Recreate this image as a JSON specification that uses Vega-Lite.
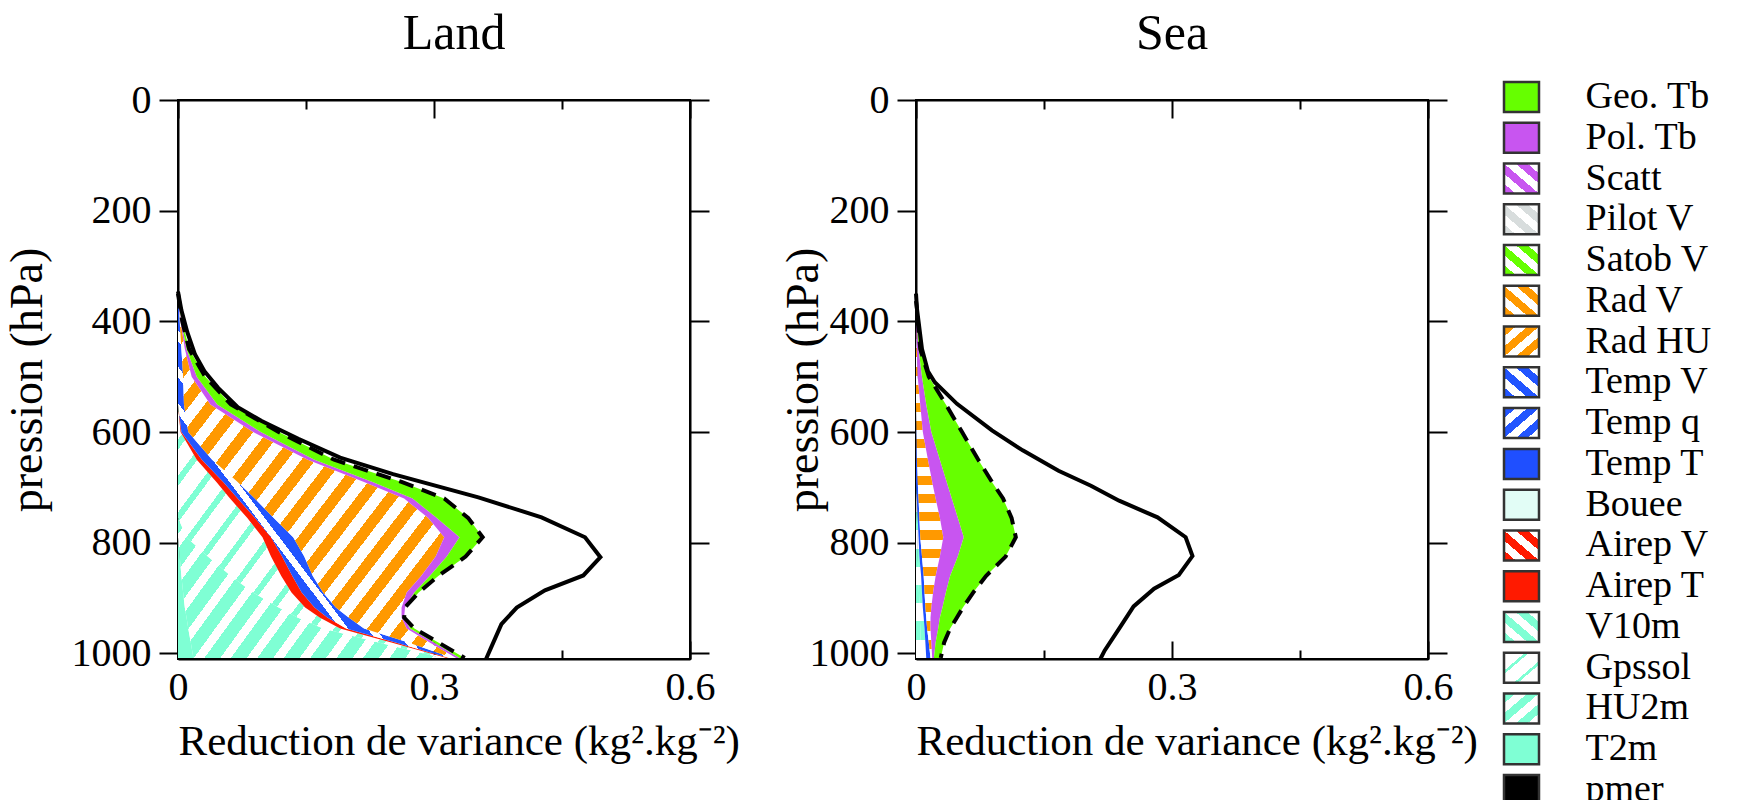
{
"$schema": "https://vega.github.io/schema/vega-lite/v6.json",
"background": "white",
"padding": {"left": 3, "top": 8, "right": 5, "bottom": 0},
"params": [
 {"name": "stOr", "expr": "[{offset:0,color:'#f90'},{offset:0.025,color:'#f90'},{offset:0.025,color:'#fff'},{offset:0.05,color:'#fff'},{offset:0.05,color:'#f90'},{offset:0.075,color:'#f90'},{offset:0.075,color:'#fff'},{offset:0.1,color:'#fff'},{offset:0.1,color:'#f90'},{offset:0.125,color:'#f90'},{offset:0.125,color:'#fff'},{offset:0.15,color:'#fff'},{offset:0.15,color:'#f90'},{offset:0.175,color:'#f90'},{offset:0.175,color:'#fff'},{offset:0.2,color:'#fff'},{offset:0.2,color:'#f90'},{offset:0.225,color:'#f90'},{offset:0.225,color:'#fff'},{offset:0.25,color:'#fff'},{offset:0.25,color:'#f90'},{offset:0.275,color:'#f90'},{offset:0.275,color:'#fff'},{offset:0.3,color:'#fff'},{offset:0.3,color:'#f90'},{offset:0.325,color:'#f90'},{offset:0.325,color:'#fff'},{offset:0.35,color:'#fff'},{offset:0.35,color:'#f90'},{offset:0.375,color:'#f90'},{offset:0.375,color:'#fff'},{offset:0.4,color:'#fff'},{offset:0.4,color:'#f90'},{offset:0.425,color:'#f90'},{offset:0.425,color:'#fff'},{offset:0.45,color:'#fff'},{offset:0.45,color:'#f90'},{offset:0.475,color:'#f90'},{offset:0.475,color:'#fff'},{offset:0.5,color:'#fff'},{offset:0.5,color:'#f90'},{offset:0.525,color:'#f90'},{offset:0.525,color:'#fff'},{offset:0.55,color:'#fff'},{offset:0.55,color:'#f90'},{offset:0.575,color:'#f90'},{offset:0.575,color:'#fff'},{offset:0.6,color:'#fff'},{offset:0.6,color:'#f90'},{offset:0.625,color:'#f90'},{offset:0.625,color:'#fff'},{offset:0.65,color:'#fff'},{offset:0.65,color:'#f90'},{offset:0.675,color:'#f90'},{offset:0.675,color:'#fff'},{offset:0.7,color:'#fff'},{offset:0.7,color:'#f90'},{offset:0.725,color:'#f90'},{offset:0.725,color:'#fff'},{offset:0.75,color:'#fff'},{offset:0.75,color:'#f90'},{offset:0.775,color:'#f90'},{offset:0.775,color:'#fff'},{offset:0.8,color:'#fff'},{offset:0.8,color:'#f90'},{offset:0.825,color:'#f90'},{offset:0.825,color:'#fff'},{offset:0.85,color:'#fff'},{offset:0.85,color:'#f90'},{offset:0.875,color:'#f90'},{offset:0.875,color:'#fff'},{offset:0.9,color:'#fff'},{offset:0.9,color:'#f90'},{offset:0.925,color:'#f90'},{offset:0.925,color:'#fff'},{offset:0.95,color:'#fff'},{offset:0.95,color:'#f90'},{offset:0.975,color:'#f90'},{offset:0.975,color:'#fff'},{offset:1,color:'#fff'}]"},
 {"name": "stCy20", "expr": "[{offset:0,color:'aquamarine'},{offset:0.03,color:'aquamarine'},{offset:0.03,color:'#fff'},{offset:0.05,color:'#fff'},{offset:0.05,color:'aquamarine'},{offset:0.08,color:'aquamarine'},{offset:0.08,color:'#fff'},{offset:0.1,color:'#fff'},{offset:0.1,color:'aquamarine'},{offset:0.13,color:'aquamarine'},{offset:0.13,color:'#fff'},{offset:0.15,color:'#fff'},{offset:0.15,color:'aquamarine'},{offset:0.18,color:'aquamarine'},{offset:0.18,color:'#fff'},{offset:0.2,color:'#fff'},{offset:0.2,color:'aquamarine'},{offset:0.23,color:'aquamarine'},{offset:0.23,color:'#fff'},{offset:0.25,color:'#fff'},{offset:0.25,color:'aquamarine'},{offset:0.28,color:'aquamarine'},{offset:0.28,color:'#fff'},{offset:0.3,color:'#fff'},{offset:0.3,color:'aquamarine'},{offset:0.33,color:'aquamarine'},{offset:0.33,color:'#fff'},{offset:0.35,color:'#fff'},{offset:0.35,color:'aquamarine'},{offset:0.38,color:'aquamarine'},{offset:0.38,color:'#fff'},{offset:0.4,color:'#fff'},{offset:0.4,color:'aquamarine'},{offset:0.43,color:'aquamarine'},{offset:0.43,color:'#fff'},{offset:0.45,color:'#fff'},{offset:0.45,color:'aquamarine'},{offset:0.48,color:'aquamarine'},{offset:0.48,color:'#fff'},{offset:0.5,color:'#fff'},{offset:0.5,color:'aquamarine'},{offset:0.53,color:'aquamarine'},{offset:0.53,color:'#fff'},{offset:0.55,color:'#fff'},{offset:0.55,color:'aquamarine'},{offset:0.58,color:'aquamarine'},{offset:0.58,color:'#fff'},{offset:0.6,color:'#fff'},{offset:0.6,color:'aquamarine'},{offset:0.63,color:'aquamarine'},{offset:0.63,color:'#fff'},{offset:0.65,color:'#fff'},{offset:0.65,color:'aquamarine'},{offset:0.68,color:'aquamarine'},{offset:0.68,color:'#fff'},{offset:0.7,color:'#fff'},{offset:0.7,color:'aquamarine'},{offset:0.73,color:'aquamarine'},{offset:0.73,color:'#fff'},{offset:0.75,color:'#fff'},{offset:0.75,color:'aquamarine'},{offset:0.78,color:'aquamarine'},{offset:0.78,color:'#fff'},{offset:0.8,color:'#fff'},{offset:0.8,color:'aquamarine'},{offset:0.83,color:'aquamarine'},{offset:0.83,color:'#fff'},{offset:0.85,color:'#fff'},{offset:0.85,color:'aquamarine'},{offset:0.88,color:'aquamarine'},{offset:0.88,color:'#fff'},{offset:0.9,color:'#fff'},{offset:0.9,color:'aquamarine'},{offset:0.93,color:'aquamarine'},{offset:0.93,color:'#fff'},{offset:0.95,color:'#fff'},{offset:0.95,color:'aquamarine'},{offset:0.98,color:'aquamarine'},{offset:0.98,color:'#fff'},{offset:1,color:'#fff'}]"},
 {"name": "stCy", "expr": "[{offset:0,color:'aquamarine'},{offset:0.05,color:'aquamarine'},{offset:0.05,color:'#fff'},{offset:0.1,color:'#fff'},{offset:0.1,color:'aquamarine'},{offset:0.15,color:'aquamarine'},{offset:0.15,color:'#fff'},{offset:0.2,color:'#fff'},{offset:0.2,color:'aquamarine'},{offset:0.25,color:'aquamarine'},{offset:0.25,color:'#fff'},{offset:0.3,color:'#fff'},{offset:0.3,color:'aquamarine'},{offset:0.35,color:'aquamarine'},{offset:0.35,color:'#fff'},{offset:0.4,color:'#fff'},{offset:0.4,color:'aquamarine'},{offset:0.45,color:'aquamarine'},{offset:0.45,color:'#fff'},{offset:0.5,color:'#fff'},{offset:0.5,color:'aquamarine'},{offset:0.55,color:'aquamarine'},{offset:0.55,color:'#fff'},{offset:0.6,color:'#fff'},{offset:0.6,color:'aquamarine'},{offset:0.65,color:'aquamarine'},{offset:0.65,color:'#fff'},{offset:0.7,color:'#fff'},{offset:0.7,color:'aquamarine'},{offset:0.75,color:'aquamarine'},{offset:0.75,color:'#fff'},{offset:0.8,color:'#fff'},{offset:0.8,color:'aquamarine'},{offset:0.85,color:'aquamarine'},{offset:0.85,color:'#fff'},{offset:0.9,color:'#fff'},{offset:0.9,color:'aquamarine'},{offset:0.95,color:'aquamarine'},{offset:0.95,color:'#fff'},{offset:1,color:'#fff'}]"},
 {"name": "stGps", "expr": "[{offset:0,color:'aquamarine'},{offset:0.014,color:'aquamarine'},{offset:0.014,color:'#fff'},{offset:0.05,color:'#fff'},{offset:0.05,color:'aquamarine'},{offset:0.064,color:'aquamarine'},{offset:0.064,color:'#fff'},{offset:0.1,color:'#fff'},{offset:0.1,color:'aquamarine'},{offset:0.114,color:'aquamarine'},{offset:0.114,color:'#fff'},{offset:0.15,color:'#fff'},{offset:0.15,color:'aquamarine'},{offset:0.164,color:'aquamarine'},{offset:0.164,color:'#fff'},{offset:0.2,color:'#fff'},{offset:0.2,color:'aquamarine'},{offset:0.214,color:'aquamarine'},{offset:0.214,color:'#fff'},{offset:0.25,color:'#fff'},{offset:0.25,color:'aquamarine'},{offset:0.264,color:'aquamarine'},{offset:0.264,color:'#fff'},{offset:0.3,color:'#fff'},{offset:0.3,color:'aquamarine'},{offset:0.314,color:'aquamarine'},{offset:0.314,color:'#fff'},{offset:0.35,color:'#fff'},{offset:0.35,color:'aquamarine'},{offset:0.364,color:'aquamarine'},{offset:0.364,color:'#fff'},{offset:0.4,color:'#fff'},{offset:0.4,color:'aquamarine'},{offset:0.414,color:'aquamarine'},{offset:0.414,color:'#fff'},{offset:0.45,color:'#fff'},{offset:0.45,color:'aquamarine'},{offset:0.464,color:'aquamarine'},{offset:0.464,color:'#fff'},{offset:0.5,color:'#fff'},{offset:0.5,color:'aquamarine'},{offset:0.514,color:'aquamarine'},{offset:0.514,color:'#fff'},{offset:0.55,color:'#fff'},{offset:0.55,color:'aquamarine'},{offset:0.564,color:'aquamarine'},{offset:0.564,color:'#fff'},{offset:0.6,color:'#fff'},{offset:0.6,color:'aquamarine'},{offset:0.614,color:'aquamarine'},{offset:0.614,color:'#fff'},{offset:0.65,color:'#fff'},{offset:0.65,color:'aquamarine'},{offset:0.664,color:'aquamarine'},{offset:0.664,color:'#fff'},{offset:0.7,color:'#fff'},{offset:0.7,color:'aquamarine'},{offset:0.714,color:'aquamarine'},{offset:0.714,color:'#fff'},{offset:0.75,color:'#fff'},{offset:0.75,color:'aquamarine'},{offset:0.764,color:'aquamarine'},{offset:0.764,color:'#fff'},{offset:0.8,color:'#fff'},{offset:0.8,color:'aquamarine'},{offset:0.814,color:'aquamarine'},{offset:0.814,color:'#fff'},{offset:0.85,color:'#fff'},{offset:0.85,color:'aquamarine'},{offset:0.864,color:'aquamarine'},{offset:0.864,color:'#fff'},{offset:0.9,color:'#fff'},{offset:0.9,color:'aquamarine'},{offset:0.914,color:'aquamarine'},{offset:0.914,color:'#fff'},{offset:0.95,color:'#fff'},{offset:0.95,color:'aquamarine'},{offset:0.964,color:'aquamarine'},{offset:0.964,color:'#fff'},{offset:1,color:'#fff'}]"}
],
"config": {
 "font": "Liberation Serif",
 "view": {"stroke": "#000", "strokeWidth": 2},
 "axis": {"domainColor": "#000", "domainWidth": 2, "tickColor": "#000", "tickWidth": 2, "grid": false, "labelFont": "Liberation Serif", "labelFontSize": 40, "labelColor": "#000", "titleFont": "Liberation Serif", "titleFontWeight": "normal", "titleColor": "#000", "labelFlush": false, "labelOverlap": false},
 "title": {"font": "Liberation Serif", "fontSize": 50, "fontWeight": "normal", "color": "#000"}
},
"datasets": {
 "leg": [
  {"c": "Geo", "name": "Geo. Tb", "k": 17},
  {"c": "Pol", "name": "Pol. Tb", "k": 16},
  {"c": "Scatt", "name": "Scatt", "k": 15},
  {"c": "Pilot", "name": "Pilot V", "k": 14},
  {"c": "Satob", "name": "Satob V", "k": 13},
  {"c": "RadV", "name": "Rad V", "k": 12},
  {"c": "RadHU", "name": "Rad HU", "k": 11},
  {"c": "TempV", "name": "Temp V", "k": 10},
  {"c": "Tempq", "name": "Temp q", "k": 9},
  {"c": "TempT", "name": "Temp T", "k": 8},
  {"c": "Bouee", "name": "Bouee", "k": 7},
  {"c": "AirV", "name": "Airep V", "k": 6},
  {"c": "AirT", "name": "Airep T", "k": 5},
  {"c": "V10m", "name": "V10m", "k": 4},
  {"c": "Gps", "name": "Gpssol", "k": 3},
  {"c": "HU2m", "name": "HU2m", "k": 2},
  {"c": "T2m", "name": "T2m", "k": 1},
  {"c": "pmer", "name": "pmer", "k": 0}
 ],
 "land": [
  {"p":350,"T2m":0,"HU2m":0,"Gps":0,"AirT":0,"TempV":0,"RadHU":0,"Pol":0,"Geo":0},
  {"p":400,"T2m":0,"HU2m":0,"Gps":0,"AirT":0,"TempV":0.002,"RadHU":0.001,"Pol":0.001,"Geo":0.001},
  {"p":450,"T2m":0,"HU2m":0,"Gps":0,"AirT":0,"TempV":0.004,"RadHU":0.004,"Pol":0.002,"Geo":0.003},
  {"p":500,"T2m":0,"HU2m":0,"Gps":0,"AirT":0,"TempV":0.006,"RadHU":0.010,"Pol":0.006,"Geo":0.010},
  {"p":550,"T2m":0,"HU2m":0,"Gps":0,"AirT":0,"TempV":0.007,"RadHU":0.031,"Pol":0.008,"Geo":0.016},
  {"p":600,"T2m":0,"HU2m":0,"Gps":0.003,"AirT":0.001,"TempV":0.008,"RadHU":0.076,"Pol":0.009,"Geo":0.021},
  {"p":650,"T2m":0,"HU2m":0,"Gps":0.022,"AirT":0.006,"TempV":0.012,"RadHU":0.112,"Pol":0.008,"Geo":0.023},
  {"p":690,"T2m":0,"HU2m":0,"Gps":0.045,"AirT":0.008,"TempV":0.017,"RadHU":0.148,"Pol":0.010,"Geo":0.034},
  {"p":720,"T2m":0,"HU2m":0,"Gps":0.061,"AirT":0.009,"TempV":0.020,"RadHU":0.175,"Pol":0.010,"Geo":0.037},
  {"p":755,"T2m":0,"HU2m":0,"Gps":0.081,"AirT":0.009,"TempV":0.022,"RadHU":0.181,"Pol":0.010,"Geo":0.037},
  {"p":790,"T2m":0,"HU2m":0.010,"Gps":0.089,"AirT":0.010,"TempV":0.026,"RadHU":0.177,"Pol":0.018,"Geo":0.027},
  {"p":825,"T2m":0.002,"HU2m":0.033,"Gps":0.074,"AirT":0.013,"TempV":0.026,"RadHU":0.154,"Pol":0.013,"Geo":0.022},
  {"p":860,"T2m":0.004,"HU2m":0.058,"Gps":0.059,"AirT":0.013,"TempV":0.024,"RadHU":0.127,"Pol":0.010,"Geo":0.010},
  {"p":890,"T2m":0.006,"HU2m":0.082,"Gps":0.045,"AirT":0.012,"TempV":0.025,"RadHU":0.098,"Pol":0.009,"Geo":0.005},
  {"p":917,"T2m":0.008,"HU2m":0.110,"Gps":0.031,"AirT":0.011,"TempV":0.025,"RadHU":0.077,"Pol":0.004,"Geo":0},
  {"p":935,"T2m":0.010,"HU2m":0.130,"Gps":0.026,"AirT":0.009,"TempV":0.025,"RadHU":0.062,"Pol":0.003,"Geo":0},
  {"p":955,"T2m":0.012,"HU2m":0.158,"Gps":0.020,"AirT":0.007,"TempV":0.021,"RadHU":0.050,"Pol":0.004,"Geo":0.005},
  {"p":980,"T2m":0.015,"HU2m":0.220,"Gps":0.015,"AirT":0.005,"TempV":0.015,"RadHU":0.025,"Pol":0.005,"Geo":0.005},
  {"p":1008,"T2m":0.018,"HU2m":0.292,"Gps":0.005,"AirT":0.003,"TempV":0.004,"RadHU":0.004,"Pol":0.004,"Geo":0.006}
 ],
 "sea": [
  {"p":350,"HU2m":0,"V10m":0,"TempT":0,"RadHU":0,"Pol":0,"Geo":0},
  {"p":400,"HU2m":0,"V10m":0,"TempT":0,"RadHU":0,"Pol":0.001,"Geo":0.001},
  {"p":450,"HU2m":0,"V10m":0,"TempT":0,"RadHU":0.001,"Pol":0.002,"Geo":0.002},
  {"p":500,"HU2m":0,"V10m":0,"TempT":0,"RadHU":0.002,"Pol":0.005,"Geo":0.008},
  {"p":550,"HU2m":0,"V10m":0,"TempT":0,"RadHU":0.005,"Pol":0.007,"Geo":0.023},
  {"p":600,"HU2m":0,"V10m":0,"TempT":0.0005,"RadHU":0.0075,"Pol":0.010,"Geo":0.036},
  {"p":650,"HU2m":0,"V10m":0,"TempT":0.001,"RadHU":0.013,"Pol":0.014,"Geo":0.045},
  {"p":690,"HU2m":0,"V10m":0,"TempT":0.002,"RadHU":0.017,"Pol":0.017,"Geo":0.053},
  {"p":720,"HU2m":0.0005,"V10m":0.0005,"TempT":0.002,"RadHU":0.020,"Pol":0.019,"Geo":0.060},
  {"p":755,"HU2m":0.001,"V10m":0.001,"TempT":0.002,"RadHU":0.024,"Pol":0.021,"Geo":0.063},
  {"p":790,"HU2m":0.0015,"V10m":0.0015,"TempT":0.002,"RadHU":0.027,"Pol":0.024,"Geo":0.061},
  {"p":825,"HU2m":0.002,"V10m":0.002,"TempT":0.003,"RadHU":0.021,"Pol":0.021,"Geo":0.056},
  {"p":860,"HU2m":0.003,"V10m":0.003,"TempT":0.003,"RadHU":0.014,"Pol":0.017,"Geo":0.042},
  {"p":890,"HU2m":0.0035,"V10m":0.0035,"TempT":0.003,"RadHU":0.010,"Pol":0.015,"Geo":0.032},
  {"p":917,"HU2m":0.004,"V10m":0.004,"TempT":0.003,"RadHU":0.007,"Pol":0.013,"Geo":0.024},
  {"p":935,"HU2m":0.0045,"V10m":0.0045,"TempT":0.003,"RadHU":0.005,"Pol":0.011,"Geo":0.020},
  {"p":955,"HU2m":0.005,"V10m":0.005,"TempT":0.003,"RadHU":0.004,"Pol":0.009,"Geo":0.014},
  {"p":980,"HU2m":0.0055,"V10m":0.0055,"TempT":0.004,"RadHU":0.003,"Pol":0.005,"Geo":0.010},
  {"p":1008,"HU2m":0.006,"V10m":0.006,"TempT":0.005,"RadHU":0.002,"Pol":0.002,"Geo":0.008}
 ],
 "landTot": [
  {"p":346,"v":0},{"p":380,"v":0.004},{"p":420,"v":0.011},{"p":460,"v":0.020},{"p":490,"v":0.031},{"p":520,"v":0.047},{"p":555,"v":0.070},{"p":580,"v":0.098},{"p":612,"v":0.141},{"p":646,"v":0.190},{"p":676,"v":0.252},{"p":718,"v":0.352},{"p":754,"v":0.426},{"p":790,"v":0.477},{"p":826,"v":0.495},{"p":859,"v":0.475},{"p":886,"v":0.430},{"p":917,"v":0.397},{"p":947,"v":0.379},{"p":989,"v":0.367},{"p":1010,"v":0.361}
 ],
 "seaTot": [
  {"p":363,"v":0},{"p":400,"v":0.003},{"p":450,"v":0.007},{"p":490,"v":0.014},{"p":510,"v":0.022},{"p":549,"v":0.048},{"p":597,"v":0.089},{"p":633,"v":0.125},{"p":670,"v":0.167},{"p":697,"v":0.205},{"p":724,"v":0.238},{"p":754,"v":0.283},{"p":790,"v":0.316},{"p":824,"v":0.324},{"p":858,"v":0.308},{"p":883,"v":0.279},{"p":915,"v":0.255},{"p":953,"v":0.239},{"p":995,"v":0.221},{"p":1010,"v":0.216}
 ]
},
"bounds": "flush",
"spacing": 76,
"resolve": {"scale": {"color": "independent", "fill": "independent"}},
"hconcat": [
 {
  "width": 512, "height": 559,
  "title": {"text": "Land", "offset": 21, "dx": 20},
  "resolve": {"axis": {"x": "independent", "y": "independent"}},
  "layer": [
   {
    "data": {"name": "land"},
    "transform": [
     {"fold": ["T2m","HU2m","Gps","AirT","TempV","RadHU","Pol","Geo"], "as": ["c","v"]},
     {"lookup": "c", "from": {"data": {"name": "leg"}, "key": "c", "fields": ["k"]}}
    ],
    "mark": {"type": "area", "orient": "horizontal"},
    "encoding": {
     "y": {"field": "p", "type": "quantitative", "scale": {"domain": [0,1010], "reverse": true, "nice": false, "zero": false},
           "axis": {"orient": "left", "values": [0,200,400,600,800,1000], "format": "d", "tickSize": 19, "labelPadding": 8, "title": "pression (hPa)", "titleFontSize": 46, "titlePadding": 20}},
     "x": {"field": "v", "type": "quantitative", "stack": "zero", "scale": {"domain": [0,0.6], "nice": false},
           "axis": {"orient": "bottom", "values": [0,0.15,0.3,0.45,0.6], "format": "~g", "tickSize": {"condition": {"test": "datum.value == 0.15 || datum.value == 0.45", "value": -9}, "value": -18}, "labelExpr": "datum.value == 0.15 || datum.value == 0.45 ? '' : datum.label", "labelPadding": 26, "title": "Reduction de variance (kg².kg⁻²)", "titleFontSize": 43, "titlePadding": 4, "titleAnchor": "start", "titleAlign": "left"}},
     "color": {"field": "c", "type": "nominal", "legend": null,
      "scale": {"domain": ["T2m","HU2m","Gps","AirT","TempV","RadHU","Pol","Geo"],
       "range": [
        "aquamarine",
        {"expr": "{gradient:'linear',x1:0,y1:0,x2:1,y2:1,stops:stCy20}"},
        {"expr": "{gradient:'linear',x1:0,y1:0,x2:1,y2:1,stops:stGps}"},
        "#ff1a00",
        {"expr": "{gradient:'linear',x1:0,y1:1,x2:1,y2:0,stops:[{offset:0,color:'#25f'},{offset:0.035,color:'#25f'},{offset:0.035,color:'#fff'},{offset:0.05,color:'#fff'},{offset:0.05,color:'#25f'},{offset:0.085,color:'#25f'},{offset:0.085,color:'#fff'},{offset:0.1,color:'#fff'},{offset:0.1,color:'#25f'},{offset:0.135,color:'#25f'},{offset:0.135,color:'#fff'},{offset:0.15,color:'#fff'},{offset:0.15,color:'#25f'},{offset:0.185,color:'#25f'},{offset:0.185,color:'#fff'},{offset:0.2,color:'#fff'},{offset:0.2,color:'#25f'},{offset:0.235,color:'#25f'},{offset:0.235,color:'#fff'},{offset:0.25,color:'#fff'},{offset:0.25,color:'#25f'},{offset:0.285,color:'#25f'},{offset:0.285,color:'#fff'},{offset:0.3,color:'#fff'},{offset:0.3,color:'#25f'},{offset:0.335,color:'#25f'},{offset:0.335,color:'#fff'},{offset:0.35,color:'#fff'},{offset:0.35,color:'#25f'},{offset:0.385,color:'#25f'},{offset:0.385,color:'#fff'},{offset:0.4,color:'#fff'},{offset:0.4,color:'#25f'},{offset:0.435,color:'#25f'},{offset:0.435,color:'#fff'},{offset:0.45,color:'#fff'},{offset:0.45,color:'#25f'},{offset:0.485,color:'#25f'},{offset:0.485,color:'#fff'},{offset:0.5,color:'#fff'},{offset:0.5,color:'#25f'},{offset:0.535,color:'#25f'},{offset:0.535,color:'#fff'},{offset:0.55,color:'#fff'},{offset:0.55,color:'#25f'},{offset:0.585,color:'#25f'},{offset:0.585,color:'#fff'},{offset:0.6,color:'#fff'},{offset:0.6,color:'#25f'},{offset:0.635,color:'#25f'},{offset:0.635,color:'#fff'},{offset:0.65,color:'#fff'},{offset:0.65,color:'#25f'},{offset:0.685,color:'#25f'},{offset:0.685,color:'#fff'},{offset:0.7,color:'#fff'},{offset:0.7,color:'#25f'},{offset:0.735,color:'#25f'},{offset:0.735,color:'#fff'},{offset:0.75,color:'#fff'},{offset:0.75,color:'#25f'},{offset:0.785,color:'#25f'},{offset:0.785,color:'#fff'},{offset:0.8,color:'#fff'},{offset:0.8,color:'#25f'},{offset:0.835,color:'#25f'},{offset:0.835,color:'#fff'},{offset:0.85,color:'#fff'},{offset:0.85,color:'#25f'},{offset:0.885,color:'#25f'},{offset:0.885,color:'#fff'},{offset:0.9,color:'#fff'},{offset:0.9,color:'#25f'},{offset:0.935,color:'#25f'},{offset:0.935,color:'#fff'},{offset:0.95,color:'#fff'},{offset:0.95,color:'#25f'},{offset:0.985,color:'#25f'},{offset:0.985,color:'#fff'},{offset:1,color:'#fff'}]}"},
        {"expr": "{gradient:'linear',x1:0,y1:0,x2:1,y2:1,stops:stOr}"},
        "#c855f0",
        "#66ff00"
       ]}},
     "order": {"field": "k", "type": "quantitative"}
    }
   },
   {
    "data": {"name": "land"},
    "transform": [
     {"fold": ["T2m","HU2m","Gps","AirT","TempV","RadHU","Pol","Geo"], "as": ["c","v"]},
     {"aggregate": [{"op": "sum", "field": "v", "as": "tot"}], "groupby": ["p"]}
    ],
    "mark": {"type": "line", "color": "#000", "strokeWidth": 4, "strokeDash": [15, 9]},
    "encoding": {
     "y": {"field": "p", "type": "quantitative", "axis": {"orient": "right", "values": [0,200,400,600,800,1000], "tickSize": 19, "labels": false, "title": null}},
     "x": {"field": "tot", "type": "quantitative", "axis": {"orient": "top", "values": [0,0.15,0.3,0.45,0.6], "tickSize": {"condition": {"test": "datum.value == 0.15 || datum.value == 0.45", "value": -9}, "value": -18}, "labels": false, "title": null}},
     "order": {"field": "p", "type": "quantitative"}
    }
   },
   {
    "data": {"name": "landTot"},
    "mark": {"type": "line", "color": "#000", "strokeWidth": 4},
    "encoding": {
     "y": {"field": "p", "type": "quantitative", "axis": null},
     "x": {"field": "v", "type": "quantitative", "axis": null},
     "order": {"field": "p", "type": "quantitative"}
    }
   }
  ]
 },
 {
  "width": 74, "height": 559,
  "view": {"stroke": null},
  "data": {"values": [{"t": ""}]},
  "mark": {"type": "text"},
  "encoding": {"text": {"field": "t"}}
 },
 {
  "width": 512, "height": 559,
  "title": {"text": "Sea", "offset": 21},
  "resolve": {"axis": {"x": "independent", "y": "independent"}},
  "layer": [
   {
    "data": {"name": "sea"},
    "transform": [
     {"fold": ["HU2m","V10m","TempT","RadHU","Pol","Geo"], "as": ["c","v"]},
     {"lookup": "c", "from": {"data": {"name": "leg"}, "key": "c", "fields": ["k"]}}
    ],
    "mark": {"type": "area", "orient": "horizontal"},
    "encoding": {
     "y": {"field": "p", "type": "quantitative", "scale": {"domain": [0,1010], "reverse": true, "nice": false, "zero": false},
           "axis": {"orient": "left", "values": [0,200,400,600,800,1000], "format": "d", "tickSize": 19, "labelPadding": 8, "title": "pression (hPa)", "titleFontSize": 46, "titlePadding": -18}},
     "x": {"field": "v", "type": "quantitative", "stack": "zero", "scale": {"domain": [0,0.6], "nice": false},
           "axis": {"orient": "bottom", "values": [0,0.15,0.3,0.45,0.6], "format": "~g", "tickSize": {"condition": {"test": "datum.value == 0.15 || datum.value == 0.45", "value": -9}, "value": -18}, "labelExpr": "datum.value == 0.15 || datum.value == 0.45 ? '' : datum.label", "labelPadding": 26, "title": "Reduction de variance (kg².kg⁻²)", "titleFontSize": 43, "titlePadding": 4, "titleAnchor": "start", "titleAlign": "left"}},
     "color": {"field": "c", "type": "nominal", "legend": null,
      "scale": {"domain": ["HU2m","V10m","TempT","RadHU","Pol","Geo"],
       "range": [
        {"expr": "{gradient:'linear',x1:0,y1:0,x2:0,y2:1,stops:stCy}"},
        {"expr": "{gradient:'linear',x1:0,y1:0,x2:0,y2:1,stops:stCy}"},
        "#1f4fff",
        {"expr": "{gradient:'linear',x1:0,y1:0,x2:0,y2:1,stops:stOr}"},
        "#c855f0",
        "#66ff00"
       ]}},
     "order": {"field": "k", "type": "quantitative"}
    }
   },
   {
    "data": {"name": "sea"},
    "transform": [
     {"fold": ["HU2m","V10m","TempT","RadHU","Pol","Geo"], "as": ["c","v"]},
     {"aggregate": [{"op": "sum", "field": "v", "as": "tot"}], "groupby": ["p"]}
    ],
    "mark": {"type": "line", "color": "#000", "strokeWidth": 4, "strokeDash": [15, 9]},
    "encoding": {
     "y": {"field": "p", "type": "quantitative", "axis": {"orient": "right", "values": [0,200,400,600,800,1000], "tickSize": 19, "labels": false, "title": null}},
     "x": {"field": "tot", "type": "quantitative", "axis": {"orient": "top", "values": [0,0.15,0.3,0.45,0.6], "tickSize": {"condition": {"test": "datum.value == 0.15 || datum.value == 0.45", "value": -9}, "value": -18}, "labels": false, "title": null}},
     "order": {"field": "p", "type": "quantitative"}
    }
   },
   {
    "data": {"name": "seaTot"},
    "mark": {"type": "line", "color": "#000", "strokeWidth": 4},
    "encoding": {
     "y": {"field": "p", "type": "quantitative", "axis": null},
     "x": {"field": "v", "type": "quantitative", "axis": null},
     "order": {"field": "p", "type": "quantitative"}
    }
   }
  ]
 },
 {
  "width": 35, "height": 690,
  "view": {"stroke": null},
  "data": {"name": "leg"},
  "layer": [
   {
    "mark": {"type": "point", "shape": "M-1,-0.857L1,-0.857L1,0.857L-1,0.857Z", "size": 1225, "filled": true, "opacity": 1, "stroke": "#333", "strokeWidth": 2.5},
    "encoding": {
     "y": {"field": "name", "type": "ordinal", "sort": {"field": "k", "op": "min", "order": "descending"}, "scale": {"type": "point", "padding": 0, "range": [-3, 690]}, "axis": null},
     "fill": {"field": "c", "type": "nominal", "legend": null,
      "scale": {"domain": ["Geo","Pol","Scatt","Pilot","Satob","RadV","RadHU","TempV","Tempq","TempT","Bouee","AirV","AirT","V10m","Gps","HU2m","T2m","pmer"],
       "range": [
        "#66ff00",
        "#c855f0",
        {"expr": "{gradient:'linear',x1:0,y1:1,x2:1,y2:0,stops:[{offset:0,color:'#c855f0'},{offset:0.1667,color:'#c855f0'},{offset:0.1667,color:'#fff'},{offset:0.3333,color:'#fff'},{offset:0.3333,color:'#c855f0'},{offset:0.5,color:'#c855f0'},{offset:0.5,color:'#fff'},{offset:0.6667,color:'#fff'},{offset:0.6667,color:'#c855f0'},{offset:0.8333,color:'#c855f0'},{offset:0.8333,color:'#fff'},{offset:1,color:'#fff'}]}"},
        {"expr": "{gradient:'linear',x1:0,y1:1,x2:1,y2:0,stops:[{offset:0,color:'#d8dddd'},{offset:0.1667,color:'#d8dddd'},{offset:0.1667,color:'#fff'},{offset:0.3333,color:'#fff'},{offset:0.3333,color:'#d8dddd'},{offset:0.5,color:'#d8dddd'},{offset:0.5,color:'#fff'},{offset:0.6667,color:'#fff'},{offset:0.6667,color:'#d8dddd'},{offset:0.8333,color:'#d8dddd'},{offset:0.8333,color:'#fff'},{offset:1,color:'#fff'}]}"},
        {"expr": "{gradient:'linear',x1:0,y1:1,x2:1,y2:0,stops:[{offset:0,color:'#66ff00'},{offset:0.1667,color:'#66ff00'},{offset:0.1667,color:'#fff'},{offset:0.3333,color:'#fff'},{offset:0.3333,color:'#66ff00'},{offset:0.5,color:'#66ff00'},{offset:0.5,color:'#fff'},{offset:0.6667,color:'#fff'},{offset:0.6667,color:'#66ff00'},{offset:0.8333,color:'#66ff00'},{offset:0.8333,color:'#fff'},{offset:1,color:'#fff'}]}"},
        {"expr": "{gradient:'linear',x1:0,y1:1,x2:1,y2:0,stops:[{offset:0,color:'#f90'},{offset:0.1667,color:'#f90'},{offset:0.1667,color:'#fff'},{offset:0.3333,color:'#fff'},{offset:0.3333,color:'#f90'},{offset:0.5,color:'#f90'},{offset:0.5,color:'#fff'},{offset:0.6667,color:'#fff'},{offset:0.6667,color:'#f90'},{offset:0.8333,color:'#f90'},{offset:0.8333,color:'#fff'},{offset:1,color:'#fff'}]}"},
        {"expr": "{gradient:'linear',x1:0,y1:0,x2:1,y2:1,stops:[{offset:0,color:'#f90'},{offset:0.1667,color:'#f90'},{offset:0.1667,color:'#fff'},{offset:0.3333,color:'#fff'},{offset:0.3333,color:'#f90'},{offset:0.5,color:'#f90'},{offset:0.5,color:'#fff'},{offset:0.6667,color:'#fff'},{offset:0.6667,color:'#f90'},{offset:0.8333,color:'#f90'},{offset:0.8333,color:'#fff'},{offset:1,color:'#fff'}]}"},
        {"expr": "{gradient:'linear',x1:0,y1:1,x2:1,y2:0,stops:[{offset:0,color:'#25f'},{offset:0.1667,color:'#25f'},{offset:0.1667,color:'#fff'},{offset:0.3333,color:'#fff'},{offset:0.3333,color:'#25f'},{offset:0.5,color:'#25f'},{offset:0.5,color:'#fff'},{offset:0.6667,color:'#fff'},{offset:0.6667,color:'#25f'},{offset:0.8333,color:'#25f'},{offset:0.8333,color:'#fff'},{offset:1,color:'#fff'}]}"},
        {"expr": "{gradient:'linear',x1:0,y1:0,x2:1,y2:1,stops:[{offset:0,color:'#25f'},{offset:0.1667,color:'#25f'},{offset:0.1667,color:'#fff'},{offset:0.3333,color:'#fff'},{offset:0.3333,color:'#25f'},{offset:0.5,color:'#25f'},{offset:0.5,color:'#fff'},{offset:0.6667,color:'#fff'},{offset:0.6667,color:'#25f'},{offset:0.8333,color:'#25f'},{offset:0.8333,color:'#fff'},{offset:1,color:'#fff'}]}"},
        "#1f4fff",
        "#e2fdf6",
        {"expr": "{gradient:'linear',x1:0,y1:1,x2:1,y2:0,stops:[{offset:0,color:'#ff1a00'},{offset:0.1667,color:'#ff1a00'},{offset:0.1667,color:'#fff'},{offset:0.3333,color:'#fff'},{offset:0.3333,color:'#ff1a00'},{offset:0.5,color:'#ff1a00'},{offset:0.5,color:'#fff'},{offset:0.6667,color:'#fff'},{offset:0.6667,color:'#ff1a00'},{offset:0.8333,color:'#ff1a00'},{offset:0.8333,color:'#fff'},{offset:1,color:'#fff'}]}"},
        "#ff1a00",
        {"expr": "{gradient:'linear',x1:0,y1:1,x2:1,y2:0,stops:[{offset:0,color:'aquamarine'},{offset:0.1667,color:'aquamarine'},{offset:0.1667,color:'#fff'},{offset:0.3333,color:'#fff'},{offset:0.3333,color:'aquamarine'},{offset:0.5,color:'aquamarine'},{offset:0.5,color:'#fff'},{offset:0.6667,color:'#fff'},{offset:0.6667,color:'aquamarine'},{offset:0.8333,color:'aquamarine'},{offset:0.8333,color:'#fff'},{offset:1,color:'#fff'}]}"},
        {"expr": "{gradient:'linear',x1:0,y1:0,x2:1,y2:1,stops:[{offset:0,color:'#fff'},{offset:0.3,color:'#fff'},{offset:0.3,color:'aquamarine'},{offset:0.36,color:'aquamarine'},{offset:0.36,color:'#fff'},{offset:0.64,color:'#fff'},{offset:0.64,color:'aquamarine'},{offset:0.7,color:'aquamarine'},{offset:0.7,color:'#fff'},{offset:1,color:'#fff'}]}"},
        {"expr": "{gradient:'linear',x1:0,y1:0,x2:1,y2:1,stops:[{offset:0,color:'aquamarine'},{offset:0.1667,color:'aquamarine'},{offset:0.1667,color:'#fff'},{offset:0.3333,color:'#fff'},{offset:0.3333,color:'aquamarine'},{offset:0.5,color:'aquamarine'},{offset:0.5,color:'#fff'},{offset:0.6667,color:'#fff'},{offset:0.6667,color:'aquamarine'},{offset:0.8333,color:'aquamarine'},{offset:0.8333,color:'#fff'},{offset:1,color:'#fff'}]}"},
        "aquamarine",
        "#000"
       ]}}
    }
   },
   {
    "mark": {"type": "text", "align": "left", "baseline": "middle", "dx": 64, "fontSize": 38, "font": "Liberation Serif", "color": "#000"},
    "encoding": {
     "y": {"field": "name", "type": "ordinal", "sort": {"field": "k", "op": "min", "order": "descending"}, "scale": {"type": "point", "padding": 0, "range": [-3, 690]}, "axis": null},
     "text": {"field": "name"}
    }
   }
  ]
 }
]
}
